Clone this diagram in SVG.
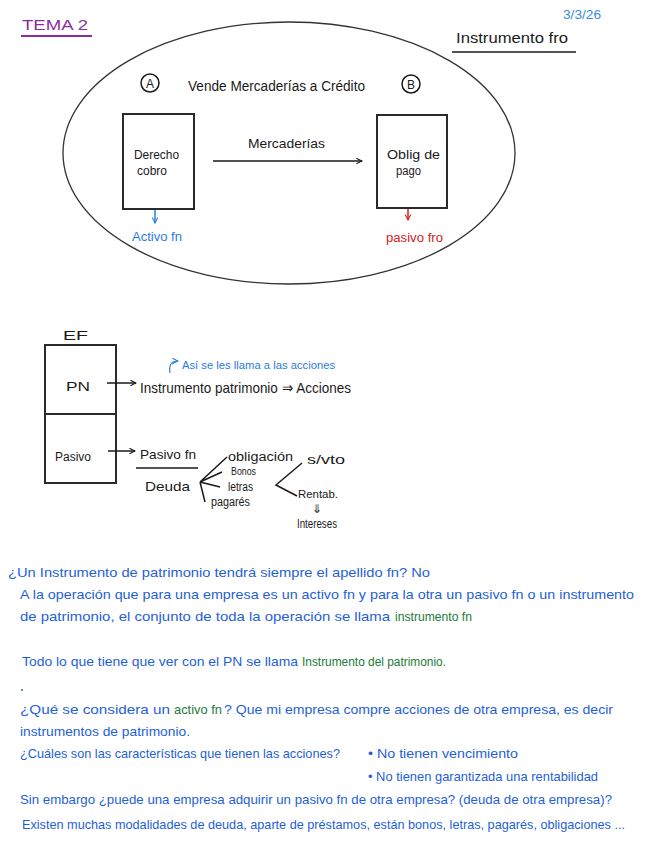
<svg xmlns="http://www.w3.org/2000/svg" width="656" height="848" viewBox="0 0 656 848">
<style>
text{font-family:"Liberation Sans",Arial,sans-serif;}
.k{fill:#1a1a1a;}
.b{fill:#1f5fd8;}
.g{fill:#1d7a3a;}
.ln{stroke:#1a1a1a;stroke-width:1.5;fill:none;}
.box{stroke:#2a2a2a;stroke-width:2;fill:#fff;}
</style>
<defs>
<marker id="ah" viewBox="0 0 10 10" refX="9" refY="5" markerWidth="7" markerHeight="7" orient="auto" markerUnits="userSpaceOnUse">
<path d="M1,1 L9,5 L1,9" fill="none" stroke="#1a1a1a" stroke-width="1.5"/>
</marker>
<marker id="ahb" viewBox="0 0 10 10" refX="9" refY="5" markerWidth="7" markerHeight="7" orient="auto" markerUnits="userSpaceOnUse">
<path d="M1,1 L9,5 L1,9" fill="none" stroke="#2a7be0" stroke-width="1.5"/>
</marker>
<marker id="ahr" viewBox="0 0 10 10" refX="9" refY="5" markerWidth="7" markerHeight="7" orient="auto" markerUnits="userSpaceOnUse">
<path d="M1,1 L9,5 L1,9" fill="none" stroke="#d42020" stroke-width="1.5"/>
</marker>
</defs>
<rect width="656" height="848" fill="#fff"/>

<g id="header">
<text x="22" y="30" font-size="14" fill="#8a2d9c" textLength="66" lengthAdjust="spacingAndGlyphs">TEMA 2</text>
<line x1="21" y1="36" x2="92" y2="36" stroke="#8a2d9c" stroke-width="2"/>
<text x="563" y="19" font-size="12" fill="#3a8de0" textLength="38" lengthAdjust="spacingAndGlyphs">3/3/26</text>
<text x="456" y="43" font-size="15" class="k" textLength="112" lengthAdjust="spacingAndGlyphs">Instrumento fro</text>
<line x1="452" y1="52" x2="576" y2="52" stroke="#1a1a1a" stroke-width="1.5"/>
</g>

<g id="ellipse">
<ellipse cx="289" cy="153" rx="226" ry="131" fill="none" stroke="#333" stroke-width="1.3"/>
<circle cx="150" cy="83" r="9" fill="none" stroke="#1a1a1a" stroke-width="1.5"/>
<text x="150" y="87.5" font-size="12" class="k" text-anchor="middle">A</text>
<text x="188" y="91" font-size="14" class="k" textLength="177" lengthAdjust="spacingAndGlyphs">Vende Mercaderías a Crédito</text>
<circle cx="411" cy="84" r="9" fill="none" stroke="#1a1a1a" stroke-width="1.5"/>
<text x="411" y="88.5" font-size="12" class="k" text-anchor="middle">B</text>
</g>

<g id="nodeA">
<rect x="123" y="114" width="71" height="95" class="box"/>
<text x="134" y="159" font-size="12" class="k" textLength="45" lengthAdjust="spacingAndGlyphs">Derecho</text>
<text x="137" y="175" font-size="12" class="k" textLength="30" lengthAdjust="spacingAndGlyphs">cobro</text>
<text x="132" y="241" font-size="12" fill="#2a7be0" textLength="50" lengthAdjust="spacingAndGlyphs">Activo fn</text>
</g>

<g id="nodeB">
<rect x="377" y="115" width="70" height="93" class="box"/>
<text x="387" y="159" font-size="12" class="k" textLength="53" lengthAdjust="spacingAndGlyphs">Oblig de</text>
<text x="396" y="175" font-size="12" class="k" textLength="25" lengthAdjust="spacingAndGlyphs">pago</text>
<text x="386" y="242" font-size="12" fill="#d42020" textLength="57" lengthAdjust="spacingAndGlyphs">pasivo fro</text>
</g>

<g id="ef">
<text x="63" y="340" font-size="13" class="k" textLength="25" lengthAdjust="spacingAndGlyphs">EF</text>
<rect x="45" y="345" width="71" height="138" class="box"/>
<line x1="45" y1="414" x2="116" y2="414" stroke="#2a2a2a" stroke-width="2"/>
<text x="66" y="391" font-size="13" class="k" textLength="24" lengthAdjust="spacingAndGlyphs">PN</text>
<text x="55" y="461" font-size="12" class="k" textLength="36" lengthAdjust="spacingAndGlyphs">Pasivo</text>
</g>

<g id="patrimonio">
<text x="140" y="393" font-size="15" class="k" textLength="211" lengthAdjust="spacingAndGlyphs">Instrumento patrimonio ⇒ Acciones</text>
<text x="182" y="369" font-size="10" fill="#2a7be0" textLength="153" lengthAdjust="spacingAndGlyphs">Así se les llama a las acciones</text>
</g>

<g id="deuda">
<text x="140" y="459" font-size="13" class="k" textLength="56" lengthAdjust="spacingAndGlyphs">Pasivo fn</text>
<line x1="136" y1="468" x2="198" y2="468" stroke="#1a1a1a" stroke-width="1.3"/>
<text x="145" y="491" font-size="13" class="k" textLength="45" lengthAdjust="spacingAndGlyphs">Deuda</text>
<text x="228" y="461" font-size="12" class="k" textLength="65" lengthAdjust="spacingAndGlyphs">obligación</text>
<text x="231" y="475" font-size="11" class="k" textLength="25" lengthAdjust="spacingAndGlyphs">Bonos</text>
<text x="228" y="491" font-size="12" class="k" textLength="25" lengthAdjust="spacingAndGlyphs">letras</text>
<text x="211" y="506" font-size="12" class="k" textLength="39" lengthAdjust="spacingAndGlyphs">pagarés</text>
<text x="307" y="464" font-size="13" class="k" textLength="38" lengthAdjust="spacingAndGlyphs">s/vto</text>
<text x="298" y="498" font-size="11" class="k" textLength="40" lengthAdjust="spacingAndGlyphs">Rentab.</text>
<text x="312" y="513" font-size="12" class="k">⇓</text>
<text x="297" y="528" font-size="12" class="k" textLength="40" lengthAdjust="spacingAndGlyphs">Intereses</text>
</g>

<g id="connectors">
<line x1="213" y1="161" x2="362" y2="161" class="ln" marker-end="url(#ah)"/>
<text x="248" y="148" font-size="13" class="k" textLength="77" lengthAdjust="spacingAndGlyphs">Mercaderías</text>
<line x1="155" y1="210" x2="155" y2="223" stroke="#2a7be0" stroke-width="1.5" marker-end="url(#ahb)"/>
<line x1="408" y1="209" x2="408" y2="220" stroke="#d42020" stroke-width="1.5" marker-end="url(#ahr)"/>
<line x1="107" y1="383" x2="136" y2="383" class="ln" marker-end="url(#ah)"/>
<line x1="108" y1="451" x2="135" y2="451" class="ln" marker-end="url(#ah)"/>
<path d="M170,373 Q168,361 178,361" fill="none" stroke="#2a7be0" stroke-width="1.2" marker-end="url(#ahb)"/>
<path d="M200,482 L227,457 M200,482 L222,472 M200,482 L220,487 M200,482 L205,502" class="ln"/>
<path d="M302,463 L276,485 L297,496" class="ln"/>
</g>

<g id="notes" font-size="13">
<text x="8" y="577" class="b" textLength="422" lengthAdjust="spacingAndGlyphs">¿Un Instrumento de patrimonio tendrá siempre el apellido fn? No</text>
<text x="20" y="599" class="b" textLength="614" lengthAdjust="spacingAndGlyphs">A la operación que para una empresa es un activo fn y para la otra un pasivo fn o un instrumento</text>
<text x="20" y="621" class="b" textLength="370" lengthAdjust="spacingAndGlyphs">de patrimonio, el conjunto de toda la operación se llama</text>
<text x="395" y="621" class="g" textLength="77" lengthAdjust="spacingAndGlyphs">instrumento fn</text>
<text x="22" y="666" class="b" textLength="276" lengthAdjust="spacingAndGlyphs">Todo lo que tiene que ver con el PN se llama</text>
<text x="302" y="666" class="g" textLength="144" lengthAdjust="spacingAndGlyphs">Instrumento del patrimonio.</text>
<circle cx="22" cy="690" r="1" fill="#1f5fd8"/>
<text x="20" y="714" class="b" textLength="150" lengthAdjust="spacingAndGlyphs">¿Qué se considera un</text>
<text x="174" y="714" class="g" textLength="48" lengthAdjust="spacingAndGlyphs">activo fn</text>
<text x="224" y="714" class="b" textLength="389" lengthAdjust="spacingAndGlyphs">? Que mi empresa compre acciones de otra empresa, es decir</text>
<text x="20" y="736" class="b" textLength="170" lengthAdjust="spacingAndGlyphs">instrumentos de patrimonio.</text>
<text x="20" y="758" class="b" textLength="320" lengthAdjust="spacingAndGlyphs">¿Cuáles son las características que tienen las acciones?</text>
<text x="368" y="758" class="b" textLength="150" lengthAdjust="spacingAndGlyphs">• No tienen vencimiento</text>
<text x="368" y="781" class="b" textLength="230" lengthAdjust="spacingAndGlyphs">• No tienen garantizada una rentabilidad</text>
<text x="20" y="804" class="b" textLength="592" lengthAdjust="spacingAndGlyphs">Sin embargo ¿puede una empresa adquirir un pasivo fn de otra empresa? (deuda de otra empresa)?</text>
<text x="22" y="829" class="b" textLength="603" lengthAdjust="spacingAndGlyphs">Existen muchas modalidades de deuda, aparte de préstamos, están bonos, letras, pagarés, obligaciones ...</text>
</g>
</svg>
